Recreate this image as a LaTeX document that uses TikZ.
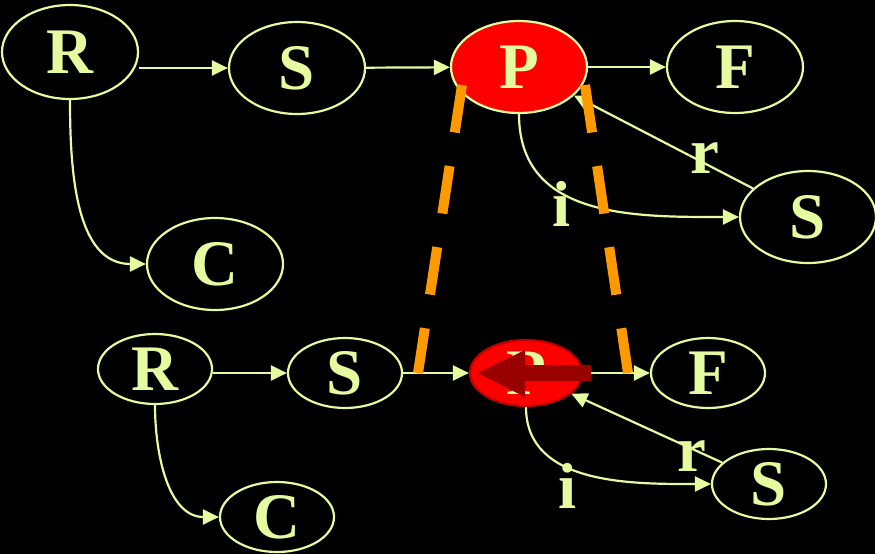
\documentclass[tikz,border=0pt]{standalone}
\usepackage{fontspec}
\setmainfont{Liberation Serif}
\usetikzlibrary{shapes.geometric, arrows.meta}
\definecolor{chalk}{RGB}{230,250,160}
\definecolor{arrowred}{RGB}{153,0,0}
\definecolor{ringred}{RGB}{190,0,0}
\definecolor{guideorange}{RGB}{255,153,0}

\begin{document}
\begin{tikzpicture}[
    x=1pt, y=-1pt,
    big_node/.style={ellipse, draw=chalk, line width=2.2pt, minimum width=136pt, minimum height=92pt, inner sep=0pt, text=chalk, font=\fontsize{65}{70}\selectfont\bfseries},
    small_node/.style={big_node, minimum width=114pt, minimum height=70pt},
    directed/.style={chalk, line width=2.2pt, -{Triangle[length=16pt, width=15pt]}},
    label_text/.style={text=chalk, inner sep=0pt, font=\fontsize{65}{70}\selectfont\bfseries},
    guide/.style={guideorange, line width=10pt, dash pattern=on 48pt off 34pt}
]
    \fill[black] (0,0) rectangle (875,554);
    \useasboundingbox (0,0) rectangle (875,554);

    % upper graph
    \node[big_node, minimum height=94pt] (R1) at (70,52) {R};
    \node[big_node] (S1) at (297,68) {S};
    \node[big_node, fill=red] (P1) at (519,67) {P};
    \node[big_node] (F1) at (735,67) {F};
    \node[big_node] (Sr1) at (808,217) {S};
    \node[big_node] (C1) at (215,264) {C};
    \draw [directed] (R1.east |- S1.west) -- (S1.west);
    \draw [directed] (S1) -- (P1);
    \draw [directed] (P1) -- (F1);
    \draw [directed] (R1.south) to[out=-90, in=180] (C1.west);
    \draw [directed] (P1.south) to[out=-90, in=180, looseness=1.1] (Sr1.west);
    \draw [directed] (Sr1) -- (P1);
    \node[label_text] (r1) at (705,158) {r};
    \node[label_text] (i1) at (562,204) {i};

    % lower graph
    \node[small_node] (R2) at (155,369) {R};
    \node[small_node] (S2) at (345,373) {S};
    \node[small_node, fill=red, draw=ringred, minimum width=112pt, minimum height=66pt] (P2) at (526,373) {P};
    \node[small_node] (F2) at (708,373) {F};
    \node[small_node] (Sr2) at (769,484) {S};
    \node[small_node] (C2) at (277,517) {C};
    \draw [directed] (R2.east |- S2.west) -- (S2.west);
    \draw [directed] (S2) -- (P2);
    \draw [directed] (P2) -- (F2);
    \draw [directed] (R2.south) to[out=-90, in=180] (C2.west);
    \draw [directed] (P2.south) to[out=-90, in=180] (Sr2.west);
    \draw [directed] (Sr2) -- (P2);
    \node[label_text] (r2) at (692,456) {r};
    \node[label_text] (i2) at (568,486) {i};

    % block arrow over the lower P
    \fill[arrowred] (P2.center) ++(-48,0) -- ++(47,-23) -- ++(0,15) -- ++(66,0)
        -- ++(0,16) -- ++(-66,0) -- ++(0,16) -- cycle;

    % dashed guides
    \coordinate (gl_top) at (462,85);
    \coordinate (gl_bot) at (418,373);
    \coordinate (gr_top) at (585,85);
    \coordinate (gr_bot) at (628,373);
    \draw [guide] (gl_top) -- (gl_bot);
    \draw [guide] (gr_top) -- (gr_bot);
\end{tikzpicture}
\end{document}
